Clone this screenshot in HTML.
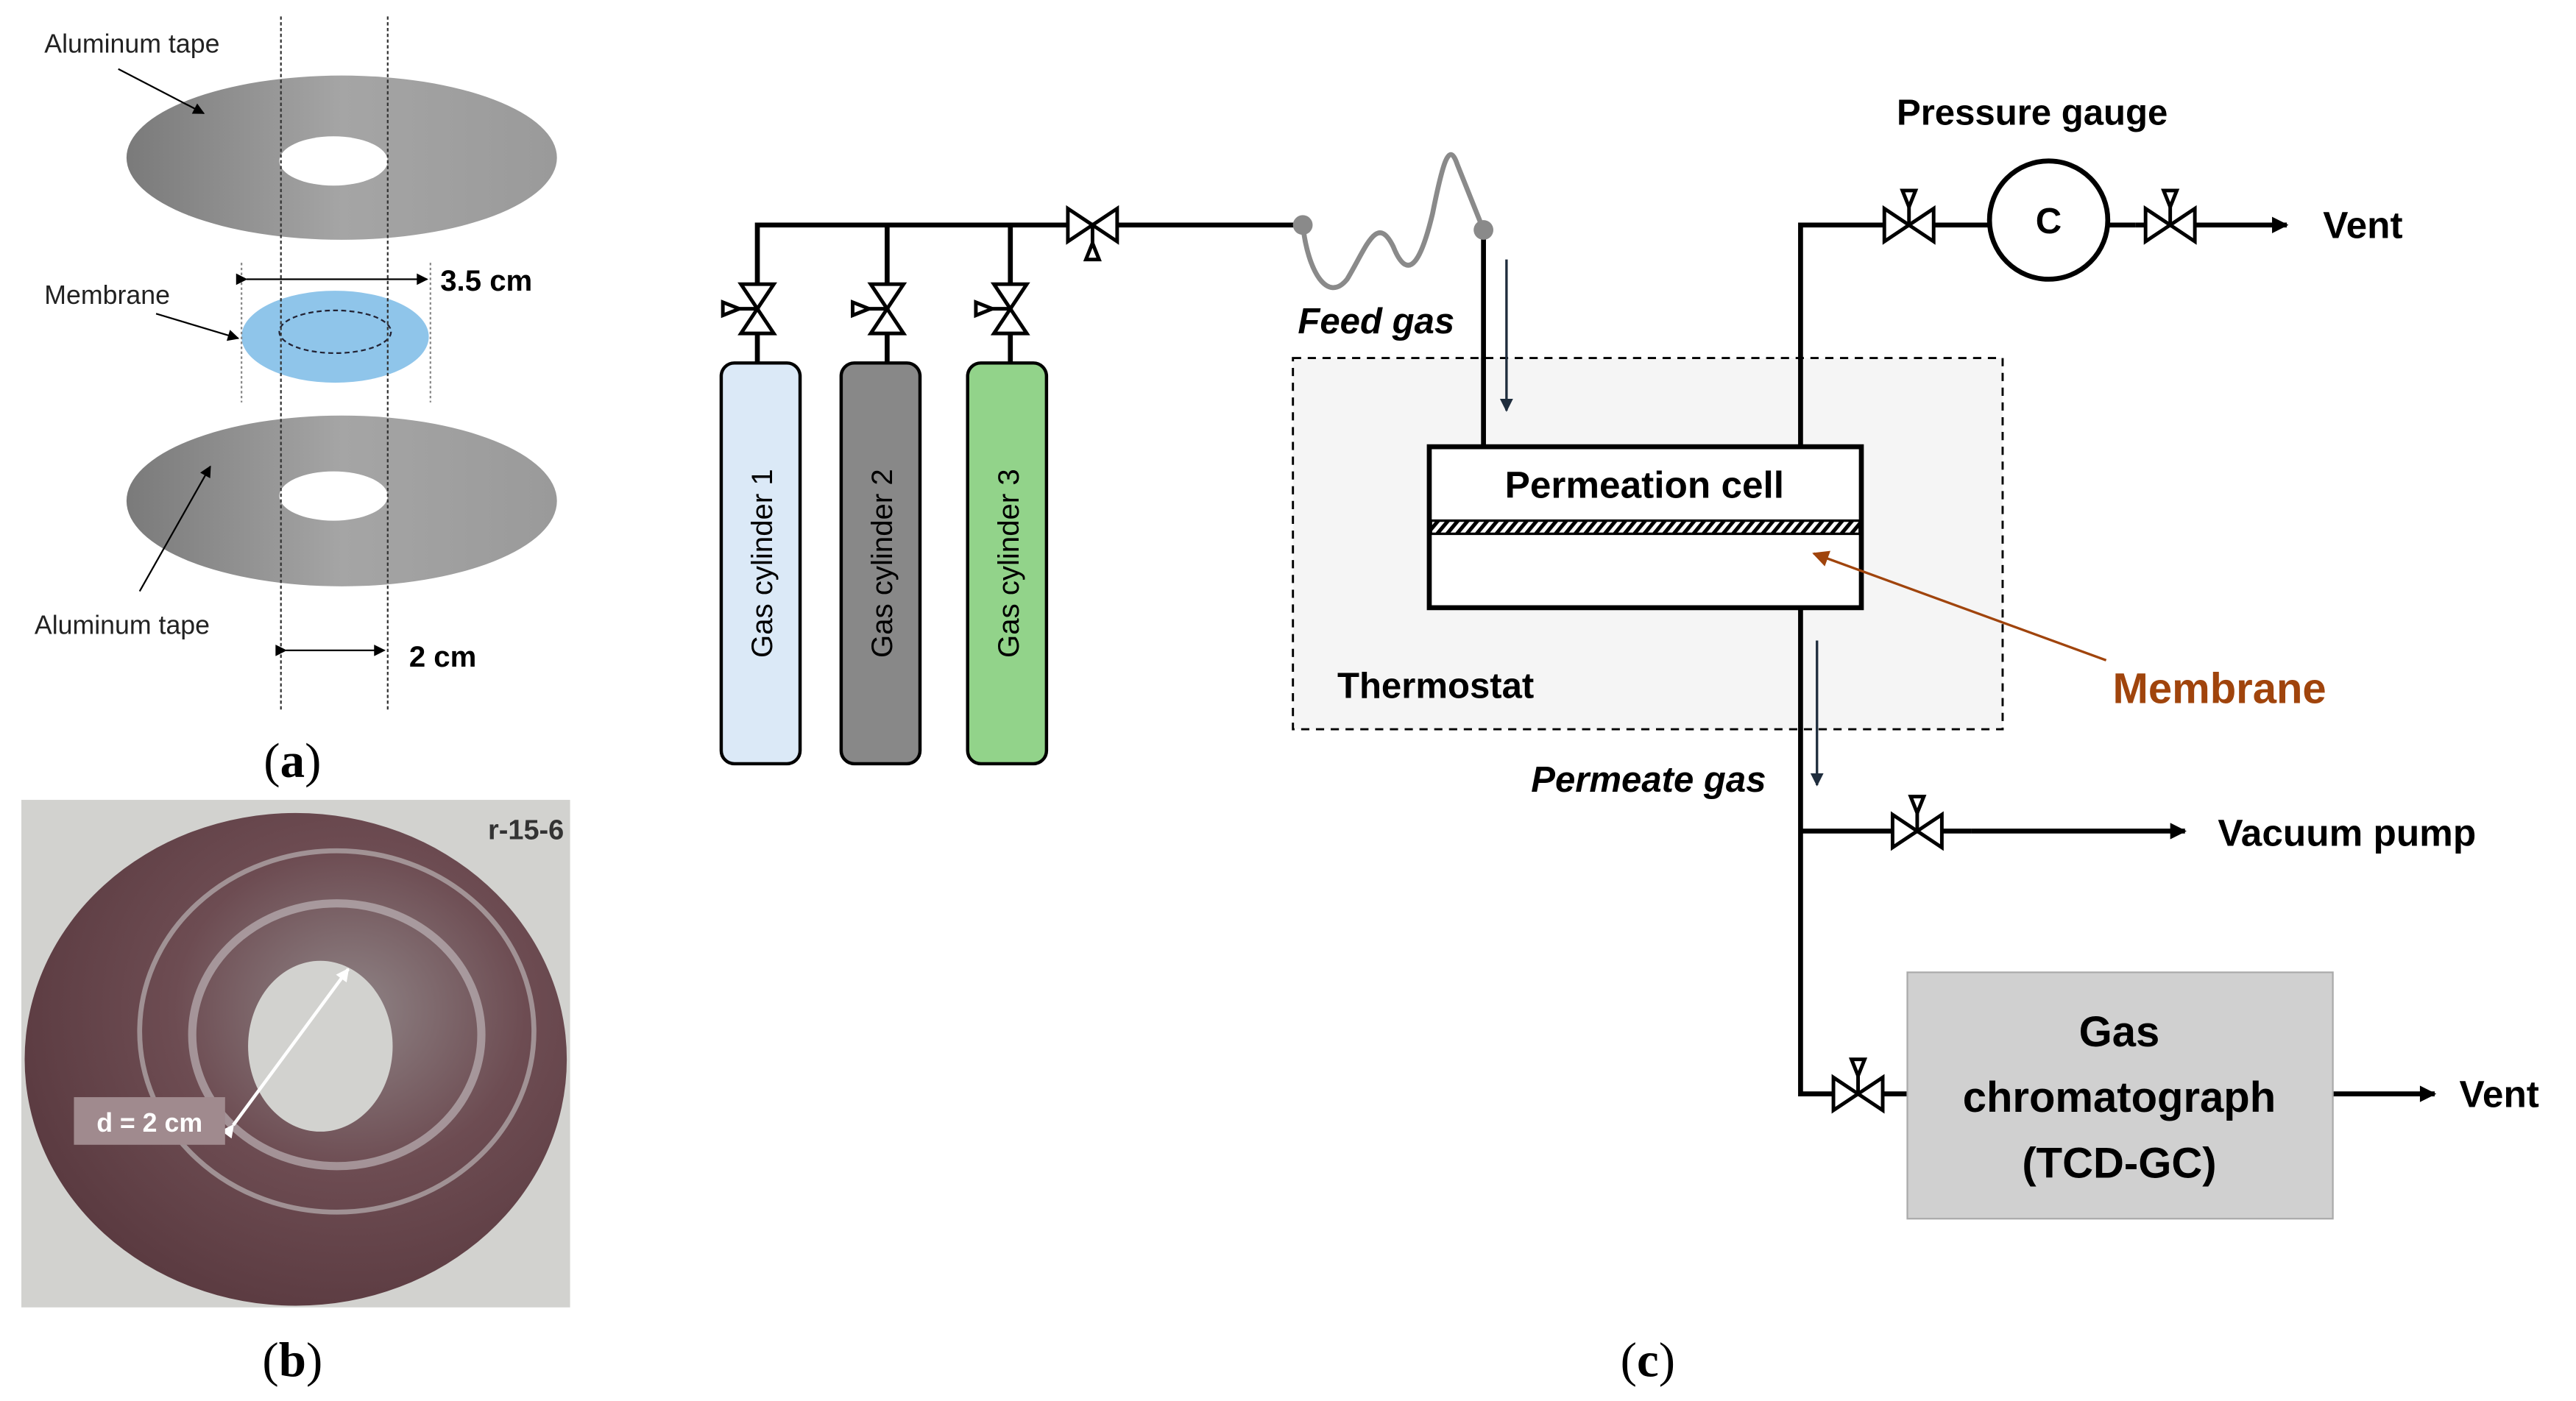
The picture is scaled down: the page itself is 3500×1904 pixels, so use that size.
<!DOCTYPE html>
<html><head><meta charset="utf-8"><style>
html,body{margin:0;padding:0;background:#fff}
svg{display:block}
text{font-family:"Liberation Sans",sans-serif}
</style></head><body>
<svg width="3500" height="1904" viewBox="0 0 1568 853" xmlns="http://www.w3.org/2000/svg">
<defs>
<g id="vh" stroke="#000" stroke-width="2.2" fill="#fff">
<polygon points="-15,-10 -15,10 0,0"/><polygon points="15,-10 15,10 0,0"/>
<line x1="0" y1="0" x2="0" y2="-12"/><polygon points="-4,-21 4,-21 0,-11"/>
</g>
<pattern id="hatch" width="6" height="8" patternUnits="userSpaceOnUse" patternTransform="skewX(-40)">
<rect width="6" height="8" fill="#fff"/><rect width="3" height="8" fill="#000"/></pattern>
<linearGradient id="al" x1="0" x2="1"><stop offset="0" stop-color="#7a7a7a"/><stop offset=".5" stop-color="#a5a5a5"/><stop offset="1" stop-color="#9a9a9a"/></linearGradient>
<radialGradient id="disc" cx=".6" cy=".4" r=".65"><stop offset="0" stop-color="#8f8486"/><stop offset=".5" stop-color="#6d4c52"/><stop offset="1" stop-color="#5a3a40"/></radialGradient>
<marker id="ah" viewBox="0 0 10 10" refX="9" refY="5" markerUnits="userSpaceOnUse" markerWidth="12" markerHeight="10" orient="auto"><path d="M0,0L10,5L0,10z" fill="#000"/></marker>
<marker id="ahn" viewBox="0 0 10 10" refX="9" refY="5" markerUnits="userSpaceOnUse" markerWidth="8" markerHeight="8" orient="auto"><path d="M0,0L10,5L0,10z" fill="#1f2d3d"/></marker>
<marker id="ahb" viewBox="0 0 10 10" refX="9" refY="5" markerUnits="userSpaceOnUse" markerWidth="11" markerHeight="10" orient="auto"><path d="M0,0L10,5L0,10z" fill="#a0440c"/></marker>
<marker id="ahs" viewBox="0 0 10 10" refX="9" refY="5" markerUnits="userSpaceOnUse" markerWidth="9" markerHeight="7" orient="auto"><path d="M0,0L10,5L0,10z" fill="#000"/></marker>
<marker id="ahw" viewBox="0 0 10 10" refX="9" refY="5" markerUnits="userSpaceOnUse" markerWidth="9" markerHeight="8" orient="auto"><path d="M0,0L10,5L0,10z" fill="#fff"/></marker>
</defs>

<!-- Panel a -->
<ellipse cx="208" cy="96" rx="131" ry="50" fill="url(#al)"/>
<ellipse cx="203" cy="98" rx="33" ry="15" fill="#fff"/>
<ellipse cx="204" cy="205" rx="57" ry="28" fill="#8fc5ea"/>
<ellipse cx="204" cy="202" rx="34" ry="13" fill="none" stroke="#223" stroke-width="1" stroke-dasharray="3,2"/>
<ellipse cx="208" cy="305" rx="131" ry="52" fill="url(#al)"/>
<ellipse cx="203" cy="302" rx="33" ry="15" fill="#fff"/>
<line x1="171" y1="10" x2="171" y2="432" stroke="#333" stroke-width="1" stroke-dasharray="2,1.5"/>
<line x1="236" y1="10" x2="236" y2="432" stroke="#333" stroke-width="1" stroke-dasharray="2,1.5"/>
<line x1="147" y1="160" x2="147" y2="245" stroke="#888" stroke-width="1" stroke-dasharray="1.5,1.5"/>
<line x1="262" y1="160" x2="262" y2="245" stroke="#888" stroke-width="1" stroke-dasharray="1.5,1.5"/>
<line x1="150" y1="170" x2="260" y2="170" stroke="#000" stroke-width="1" marker-start="url(#ahs)" marker-end="url(#ahs)"/>
<line x1="174" y1="396" x2="234" y2="396" stroke="#000" stroke-width="1" marker-start="url(#ahs)" marker-end="url(#ahs)"/>
<text x="268" y="177" font-size="18" font-weight="bold">3.5 cm</text>
<text x="249" y="406" font-size="18" font-weight="bold">2 cm</text>
<text x="27" y="32" font-size="16" fill="#222">Aluminum tape</text>
<text x="27" y="185" font-size="16" fill="#222">Membrane</text>
<text x="21" y="386" font-size="16" fill="#222">Aluminum tape</text>
<line x1="72" y1="42" x2="124" y2="69" stroke="#000" stroke-width="1" marker-end="url(#ahs)"/>
<line x1="95" y1="191" x2="145" y2="206" stroke="#000" stroke-width="1" marker-end="url(#ahs)"/>
<line x1="85" y1="360" x2="128" y2="284" stroke="#000" stroke-width="1" marker-end="url(#ahs)"/>
<text x="178" y="473" font-size="30" text-anchor="middle" style="font-family:'Liberation Serif',serif">(<tspan font-weight="bold">a</tspan>)</text>

<!-- Panel b -->
<rect x="13" y="487" width="334" height="309" fill="#d2d2cf"/>
<ellipse cx="180" cy="645" rx="165" ry="150" fill="url(#disc)"/>
<ellipse cx="205" cy="628" rx="120" ry="110" fill="none" stroke="#b8b0b2" stroke-width="3" opacity=".7"/>
<ellipse cx="205" cy="630" rx="88" ry="80" fill="none" stroke="#c8c2c4" stroke-width="5" opacity=".6"/>
<ellipse cx="195" cy="637" rx="44" ry="52" fill="#d2d2cf"/>
<line x1="142" y1="685" x2="212" y2="590" stroke="#fff" stroke-width="2" marker-start="url(#ahw)" marker-end="url(#ahw)"/>
<rect x="45" y="668" width="92" height="29" fill="#a08a8e"/>
<text x="91" y="689" font-size="16" font-weight="bold" fill="#fff" text-anchor="middle">d = 2 cm</text>
<text x="297" y="511" font-size="17" font-weight="bold" fill="#333">r-15-6</text>
<text x="178" y="838" font-size="30" text-anchor="middle" style="font-family:'Liberation Serif',serif">(<tspan font-weight="bold">b</tspan>)</text>

<!-- Panel c -->
<rect x="787" y="218" width="432" height="226" fill="#f5f5f5" stroke="#000" stroke-width="1.3" stroke-dasharray="5,4"/>
<g stroke="#000" stroke-width="3" fill="none">
<polyline points="461,221 461,137 793,137"/>
<line x1="540" y1="137" x2="540" y2="221"/>
<line x1="615" y1="137" x2="615" y2="221"/>
<line x1="903" y1="140" x2="903" y2="272"/>
<polyline points="1096,272 1096,137 1300,137"/>
<polyline points="1096,370 1096,666 1161,666"/>
<line x1="1096" y1="506" x2="1200" y2="506"/>
</g>
<line x1="1300" y1="137" x2="1392" y2="137" stroke="#000" stroke-width="3" marker-end="url(#ah)"/>
<line x1="1200" y1="506" x2="1330" y2="506" stroke="#000" stroke-width="3" marker-end="url(#ah)"/>
<line x1="1420" y1="666" x2="1482" y2="666" stroke="#000" stroke-width="3" marker-end="url(#ah)"/>
<path d="M793,137 C796,165 808,185 820,170 C832,150 838,130 848,150 C858,175 866,155 872,130 C878,100 882,85 887,100 C893,115 897,125 903,140" fill="none" stroke="#8a8a8a" stroke-width="3"/>
<circle cx="793" cy="137" r="6" fill="#8a8a8a"/><circle cx="903" cy="140" r="6" fill="#8a8a8a"/>
<line x1="917" y1="158" x2="917" y2="250" stroke="#1f2d3d" stroke-width="1.5" marker-end="url(#ahn)"/>
<line x1="1106" y1="390" x2="1106" y2="478" stroke="#1f2d3d" stroke-width="1.5" marker-end="url(#ahn)"/>

<!-- valves -->
<use href="#vh" transform="translate(461,188) rotate(90) scale(1,-1)"/>
<use href="#vh" transform="translate(540,188) rotate(90) scale(1,-1)"/>
<use href="#vh" transform="translate(615,188) rotate(90) scale(1,-1)"/>
<use href="#vh" transform="translate(665,137) scale(1,-1)"/>
<use href="#vh" transform="translate(1162,137)"/>
<use href="#vh" transform="translate(1321,137)"/>
<use href="#vh" transform="translate(1167,506)"/>
<use href="#vh" transform="translate(1131,666)"/>

<!-- cylinders -->
<rect x="439" y="221" width="48" height="244" rx="8" fill="#dbe9f7" stroke="#000" stroke-width="2"/>
<rect x="512" y="221" width="48" height="244" rx="8" fill="#888" stroke="#000" stroke-width="2"/>
<rect x="589" y="221" width="48" height="244" rx="8" fill="#92d38a" stroke="#000" stroke-width="2"/>
<text transform="translate(470,343) rotate(-90)" font-size="18" text-anchor="middle">Gas cylinder 1</text>
<text transform="translate(543,343) rotate(-90)" font-size="18" text-anchor="middle">Gas cylinder 2</text>
<text transform="translate(620,343) rotate(-90)" font-size="18" text-anchor="middle">Gas cylinder 3</text>

<!-- cell -->
<rect x="870" y="272" width="263" height="98" fill="#fff" stroke="#000" stroke-width="3"/>
<rect x="871" y="317" width="261" height="8" fill="url(#hatch)" stroke="#000" stroke-width="1.5"/>
<text x="1001" y="303" font-size="23" font-weight="bold" text-anchor="middle">Permeation cell</text>
<line x1="1282" y1="402" x2="1104" y2="337" stroke="#a0440c" stroke-width="1.5" marker-end="url(#ahb)"/>
<text x="1286" y="428" font-size="26" font-weight="bold" fill="#a0440c">Membrane</text>
<text x="790" y="203" font-size="22" font-weight="bold" font-style="italic">Feed gas</text>
<text x="814" y="425" font-size="22" font-weight="bold">Thermostat</text>
<text x="1075" y="482" font-size="22" font-weight="bold" font-style="italic" text-anchor="end">Permeate gas</text>

<circle cx="1247" cy="134" r="36" fill="#fff" stroke="#000" stroke-width="3"/>
<text x="1247" y="142" font-size="22" font-weight="bold" text-anchor="middle">C</text>
<text x="1237" y="76" font-size="22" font-weight="bold" text-anchor="middle">Pressure gauge</text>
<text x="1414" y="145" font-size="23" font-weight="bold">Vent</text>
<text x="1350" y="515" font-size="23" font-weight="bold">Vacuum pump</text>
<rect x="1161" y="592" width="259" height="150" fill="#d0d0d0" stroke="#aaa" stroke-width="1"/>
<text x="1290" y="637" font-size="26" font-weight="bold" text-anchor="middle">Gas</text>
<text x="1290" y="677" font-size="26" font-weight="bold" text-anchor="middle">chromatograph</text>
<text x="1290" y="717" font-size="26" font-weight="bold" text-anchor="middle">(TCD-GC)</text>
<text x="1497" y="674" font-size="23" font-weight="bold">Vent</text>
<text x="1003" y="838" font-size="30" text-anchor="middle" style="font-family:'Liberation Serif',serif">(<tspan font-weight="bold">c</tspan>)</text>
</svg>
</body></html>
